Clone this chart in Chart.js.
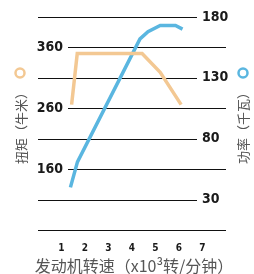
<!DOCTYPE html>
<html>
<head>
<meta charset="utf-8">
<script src="https://cdn.jsdelivr.net/npm/chart.js@4"></script>
<style>
  html, body { margin: 0; padding: 0; background: #fff; }
  #wrap { width: 254px; height: 274px; }
</style>
</head>
<body>
<div id="wrap"><canvas id="engineChart" width="254" height="274"></canvas></div>
<script>
// engine speed (x1000 rpm) and readings
const torqueRpm = [1.43, 1.67, 4.43, 5.2, 6.09];
const torqueNm = [266, 350, 350, 319, 266];
const powerRpm = [1.38, 1.68, 4.34, 4.68, 5.2, 5.85, 6.15];
const powerKw = [40, 61, 162, 168, 173, 173, 170];

const torqueTicks = [160, 260, 360];
const powerTicks = [30, 80, 130, 180];
const rpmTicks = [1, 2, 3, 4, 5, 6, 7];

const orange = '#f3c893';
const blue = '#5ab6e0';

function toPoints(xs, ys) {
  return xs.map((x, i) => ({ x: x, y: ys[i] }));
}

// gridlines, tick labels and titles drawn by hand
const decor = {
  id: 'decor',
  beforeDatasetsDraw(chart) {
    const ctx = chart.ctx;
    const x = chart.scales.x, yL = chart.scales.y, yR = chart.scales.y1;
    const area = chart.chartArea;
    ctx.save();
    ctx.strokeStyle = '#111';
    ctx.lineWidth = 1;
    // lines with right labels
    powerTicks.forEach(v => {
      const py = Math.round(yR.getPixelForValue(v)) + 0.5;
      ctx.beginPath();
      ctx.moveTo(area.left, py);
      ctx.lineTo(197, py);
      ctx.stroke();
    });
    // lines with left labels
    torqueTicks.forEach(v => {
      const py = Math.round(yL.getPixelForValue(v)) + 0.5;
      ctx.beginPath();
      ctx.moveTo(68, py);
      ctx.lineTo(area.right, py);
      ctx.stroke();
    });
    // bottom line
    const by = Math.round(area.bottom) + 0.5;
    ctx.beginPath();
    ctx.moveTo(area.left, by);
    ctx.lineTo(area.right, by);
    ctx.stroke();

    ctx.fillStyle = '#1a1a1a';
    ctx.font = 'bold 14px "DejaVu Sans Condensed", "DejaVu Sans"';
    ctx.textBaseline = 'middle';
    ctx.textAlign = 'right';
    torqueTicks.forEach(v => ctx.fillText(String(v), 63, yL.getPixelForValue(v)));
    ctx.textAlign = 'left';
    powerTicks.forEach(v => ctx.fillText(String(v), 202, yR.getPixelForValue(v)));

    ctx.font = 'bold 10px "DejaVu Sans Condensed", "DejaVu Sans"';
    ctx.textAlign = 'center';
    rpmTicks.forEach(v => ctx.fillText(String(v), x.getPixelForValue(v), 248));

    ctx.fillStyle = '#555';
    ctx.font = '16px "Noto Sans CJK SC"';
    ctx.fillText('发动机转速（x10³转/分钟）', 134, 266);

    ctx.font = '13px "Noto Sans CJK SC"';
    [[21, '扭矩（牛米）'], [243, '功率（千瓦）']].forEach(([cx, t]) => {
      ctx.save();
      ctx.translate(cx, 125);
      ctx.rotate(-Math.PI / 2);
      ctx.fillText(t, 0, 0);
      ctx.restore();
    });

    ctx.lineWidth = 2.5;
    ctx.strokeStyle = orange;
    ctx.beginPath();
    ctx.arc(20, 73, 4.5, 0, Math.PI * 2);
    ctx.stroke();
    ctx.strokeStyle = blue;
    ctx.beginPath();
    ctx.arc(243, 73, 4.5, 0, Math.PI * 2);
    ctx.stroke();
    ctx.restore();
  }
};

new Chart(document.getElementById('engineChart'), {
  type: 'line',
  data: {
    datasets: [
      {
        label: '扭矩',
        data: toPoints(torqueRpm, torqueNm),
        yAxisID: 'y',
        borderColor: orange,
        borderWidth: 3.5,
        pointRadius: 0,
        tension: 0
      },
      {
        label: '功率',
        data: toPoints(powerRpm, powerKw),
        yAxisID: 'y1',
        borderColor: blue,
        borderWidth: 3.5,
        pointRadius: 0,
        tension: 0
      }
    ]
  },
  options: {
    responsive: false,
    animation: false,
    layout: { padding: { left: 38, right: 28, top: 17, bottom: 44 } },
    scales: {
      x: { type: 'linear', min: 0, max: 8, display: false },
      y: { min: 60, max: 410, display: false },
      y1: { min: 5, max: 180, display: false }
    },
    plugins: {
      legend: { display: false },
      tooltip: { enabled: false }
    }
  },
  plugins: [decor]
});
</script>
</body>
</html>
